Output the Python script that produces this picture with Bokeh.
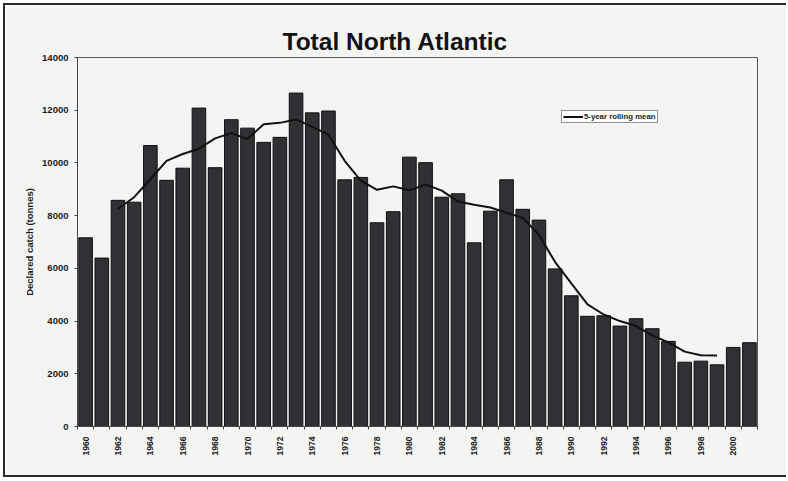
from bokeh.plotting import figure
from bokeh.models import ColumnDataSource, FixedTicker, Legend, LegendItem, Range1d
from bokeh.embed import file_html
from bokeh.resources import INLINE

# Declared catch per year (tonnes)
years = list(range(1960, 2002))
catch = [7160, 6390, 8580, 8510, 10660, 9340, 9800, 12080, 9820, 11640,
         11320, 10780, 10970, 12650, 11900, 11970, 9360, 9450, 7730, 8150,
         10220, 10010, 8700, 8830, 6970, 8170, 9360, 8240, 7830, 5980,
         4960, 4180, 4200, 3810, 4090, 3710, 3230, 2440, 2480, 2340,
         3000, 3180]

# Centred 5-year rolling mean, 1962-1999
mean_years = list(range(1962, 2000))
rolling_mean = [8260, 8700, 9380, 10080, 10340, 10540, 10930, 11130, 10910, 11470,
                11520, 11650, 11370, 11070, 10080, 9330, 8980, 9110, 8960, 9180,
                8950, 8540, 8410, 8310, 8110, 7920, 7270, 6240, 5430, 4630,
                4250, 4000, 3810, 3460, 3190, 2840, 2700, 2690]

y_ticks = [0, 2000, 4000, 6000, 8000, 10000, 12000, 14000]
x_label_years = list(range(1960, 2001, 2))

paper = "#f4f4f3"
ink = "#1c1c1e"

bars = ColumnDataSource(dict(year=years, catch=catch))
trend = ColumnDataSource(dict(year=mean_years, mean=rolling_mean))

p = figure(width=783, height=474, output_backend="svg", toolbar_location=None,
           x_range=Range1d(1959.5, 2001.5), y_range=Range1d(0, 14000),
           title="Total North Atlantic",
           min_border_left=72, min_border_right=31, min_border_top=52, min_border_bottom=53)
p.styles = {"margin-left": "3px", "margin-top": "3px",
            "border-top": "2px solid #2a2a2a", "border-left": "2px solid #2a2a2a",
            "border-bottom": "2px solid #2a2a2a", "border-right": "none"}

p.background_fill_color = paper
p.border_fill_color = paper
p.outline_line_color = "#555555"
p.outline_line_width = 1
p.grid.visible = False

p.title.text_font = "Liberation Sans"
p.title.text_font_size = "24.5px"
p.title.text_font_style = "bold"
p.title.text_color = "#111111"
p.title.align = "left"
p.title.offset = 205
p.title.standoff = 6

p.vbar(x="year", top="catch", width=0.84, source=bars,
       fill_color="#303035", line_color="#111111", line_width=1)
mean_line = p.line(x="year", y="mean", source=trend, line_color="#111111", line_width=2)

# y axis
ya = p.yaxis[0]
ya.ticker = FixedTicker(ticks=y_ticks)
ya.minor_tick_line_color = None
ya.major_tick_out = 3
ya.major_tick_in = 0
ya.axis_line_color = "#444444"
ya.major_tick_line_color = "#444444"
ya.major_label_text_font = "Liberation Sans"
ya.major_label_text_font_style = "bold"
ya.major_label_text_font_size = "9.5px"
ya.major_label_text_color = ink
ya.major_label_standoff = 6
ya.axis_label = "Declared catch (tonnes)"
ya.axis_label_text_font = "Liberation Sans"
ya.axis_label_text_font_style = "bold"
ya.axis_label_text_font_size = "9.5px"
ya.axis_label_text_color = ink
ya.axis_label_standoff = 4

# x axis: labels every other year, ticks at bar boundaries
xa = p.xaxis[0]
xa.ticker = FixedTicker(ticks=x_label_years,
                        minor_ticks=[y + 0.5 for y in range(1959, 2002)])
xa.major_tick_out = 0
xa.major_tick_in = 0
xa.minor_tick_out = 3
xa.minor_tick_in = 0
xa.axis_line_color = "#444444"
xa.minor_tick_line_color = "#444444"
xa.major_label_orientation = 1.5708
xa.major_label_text_font = "Liberation Sans"
xa.major_label_text_font_style = "bold"
xa.major_label_text_font_size = "8.5px"
xa.major_label_text_color = ink
xa.major_label_standoff = 7

legend = Legend(items=[LegendItem(label="5-year rolling mean", renderers=[mean_line])],
                location=(484, 303))
legend.border_line_color = "#222222"
legend.border_line_width = 1
legend.background_fill_color = "#ffffff"
legend.background_fill_alpha = 1.0
legend.label_text_font = "Liberation Sans"
legend.label_text_font_style = "bold"
legend.label_text_font_size = "7.8px"
legend.label_text_color = ink
legend.label_height = 9
legend.glyph_height = 9
legend.glyph_width = 20
legend.label_standoff = 1
legend.padding = 1
legend.margin = 0
legend.spacing = 0
p.add_layout(legend)

open("out.html", "w").write(file_html(p, INLINE))
